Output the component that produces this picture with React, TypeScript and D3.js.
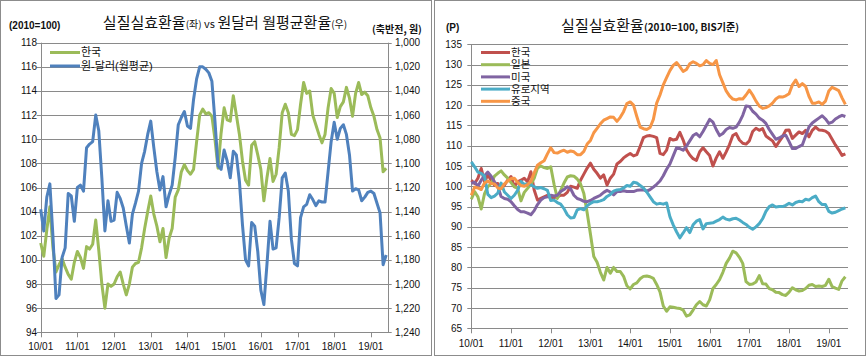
import React from "react";
import * as d3 from "d3";

// ---------- DATA ----------
const xTickLabels = ["10/01", "11/01", "12/01", "13/01", "14/01", "15/01", "16/01", "17/01", "18/01", "19/01"];

// Left chart: REER Korea (2010=100, left axis)
const leftKorea = [
  101.4, 100.3, 102.5, 104.4, 101.0, 99.0, 99.6, 100.1, 99.4, 98.8, 98.4, 99.8,
  100.7, 100.2, 99.3, 101.1, 100.9, 101.3, 103.3, 100.8, 98.0, 96.0, 98.0, 97.8,
  98.0, 98.6, 99.0, 98.0, 97.1, 98.0, 99.4, 99.7, 99.8, 101.0, 102.6, 104.0,
  105.3, 103.8, 102.8, 101.5, 102.6, 100.2, 101.8, 102.6, 105.2, 105.8, 107.3, 107.9,
  107.4, 107.1, 107.5, 109.8, 112.0, 112.5, 112.1, 112.2, 111.9, 110.0, 107.6, 110.5,
  112.6, 111.6, 111.5, 113.6, 112.0, 110.4, 108.2, 106.6, 106.2, 109.5, 109.8, 108.7,
  107.5, 104.9, 106.8, 108.4, 106.5, 107.1, 109.3, 112.2, 112.9, 112.2, 110.4, 110.3,
  110.8, 112.9, 114.7, 113.8, 114.0, 112.0, 111.2, 110.4, 109.7, 110.4, 112.6, 114.2,
  113.8, 111.8, 112.7, 113.1, 114.3, 113.4, 111.9, 113.8, 114.7, 113.7, 113.9, 113.6,
  112.6, 111.9, 110.8, 110.1, 107.3, 107.6,
];

// Left chart: KRW/USD monthly average (right axis, inverted)
const wonDollar = [
  1138, 1156, 1128, 1117, 1160, 1212, 1209, 1178, 1170, 1125, 1127, 1148,
  1120, 1118, 1123, 1087, 1084, 1082, 1060, 1073, 1112, 1156, 1131, 1148,
  1147, 1124, 1129, 1137, 1152, 1166, 1142, 1133, 1123, 1100, 1090, 1076,
  1065, 1087, 1107, 1122, 1111, 1136, 1126, 1118, 1095, 1068, 1062, 1057,
  1069, 1071, 1047, 1030, 1020, 1020, 1022, 1025, 1032, 1065, 1102, 1105,
  1089, 1098, 1112, 1090, 1093, 1115, 1151, 1180, 1185, 1149, 1152, 1173,
  1205, 1217, 1184, 1148, 1171, 1170, 1145, 1112, 1108, 1123, 1163, 1183,
  1185, 1145, 1136, 1134, 1126, 1130, 1135, 1131, 1132, 1132, 1107, 1082,
  1066, 1080, 1071, 1068, 1076, 1093, 1123, 1121, 1122, 1131, 1128, 1124,
  1123, 1125, 1133, 1141, 1184, 1176,
];

const leftYTicks = [94, 96, 98, 100, 102, 104, 106, 108, 110, 112, 114, 116, 118];
const wonTicks = [1000, 1020, 1040, 1060, 1080, 1100, 1120, 1140, 1160, 1180, 1200, 1220, 1240];

// Right chart: BIS REER
const bisKorea = [
  101.5, 100.7, 102.0, 104.4, 101.1, 102.8, 101.5, 100.3, 100.7, 99.5, 100.3, 101.5,
  102.4, 99.9, 101.1, 101.5, 102.0, 101.1, 103.6, 99.1, 96.6, 97.0, 97.4, 97.8,
  97.0, 97.2, 97.4, 97.8, 97.8, 98.5, 100.0, 99.8, 99.5, 101.5, 103.0, 104.5,
  105.7, 104.2, 103.2, 102.0, 102.8, 100.3, 102.0, 103.0, 105.5, 106.1, 107.0, 107.6,
  108.1, 107.5, 107.8, 109.8, 112.0, 112.4, 112.5, 112.3, 112.0, 108.1, 107.8, 108.9,
  111.8, 111.4, 111.6, 113.3, 111.4, 109.0, 107.7, 106.8, 106.4, 108.5, 109.5, 108.5,
  107.6, 105.0, 107.0, 108.5, 106.9, 108.5, 110.3, 112.5, 113.0, 111.4, 110.6, 110.4,
  111.2, 113.5, 114.3, 113.8, 114.2, 112.4, 111.8, 111.2, 109.8, 111.0, 112.2, 113.8,
  113.9, 111.8, 112.6, 113.4, 113.0, 113.8, 112.2, 113.8, 114.6, 113.9, 113.8, 113.6,
  113.0, 111.6, 110.2, 109.0, 107.6, 108.0,
];
const bisJapan = [
  96.8, 98.7, 97.4, 94.4, 98.2, 99.9, 100.7, 102.5, 103.2, 103.8, 102.8, 102.0,
  100.9, 99.9, 99.5, 96.4, 98.5, 99.5, 100.5, 102.0, 104.5, 105.0, 104.6, 104.4,
  104.8, 100.5, 97.0, 99.0, 100.8, 102.3, 102.6, 102.5, 101.8, 100.6, 98.2, 93.5,
  88.2, 82.7, 81.3, 78.8, 76.9, 80.0, 78.6, 80.0, 79.0, 79.0, 77.8, 75.5,
  74.7, 75.8, 76.2, 77.2, 77.8, 77.9, 77.7, 77.3, 75.8, 74.0, 70.5, 69.2,
  70.3, 70.2, 70.0, 69.9, 69.5, 68.0, 68.3, 69.5, 70.8, 71.6, 70.8, 70.5,
  72.0, 74.8, 75.8, 77.0, 78.8, 81.0, 82.3, 84.0, 83.6, 82.5, 81.0, 76.5,
  75.8, 75.9, 76.4, 78.0, 76.0, 75.9, 74.8, 74.5, 73.9, 73.8, 73.3, 73.1,
  73.9, 75.0, 74.5, 74.2, 74.3, 74.8, 75.6, 75.8, 75.3, 75.4, 75.3, 75.6,
  77.1, 75.3, 74.9, 74.6, 76.7, 77.7,
];
const bisUS = [
  100.7, 101.0, 100.0, 101.5, 102.6, 103.5, 102.5, 101.1, 100.0, 97.5, 97.0, 96.8,
  96.2, 95.2, 94.3, 93.7, 93.7, 93.4, 93.0, 94.0, 95.5, 96.6, 97.2, 97.4,
  97.8, 97.6, 97.8, 98.7, 99.2, 99.9, 99.4, 97.8, 97.0, 96.7, 96.3, 96.2,
  96.5, 97.0, 97.4, 97.8, 98.5, 99.0, 98.6, 97.9, 98.7, 98.7, 98.9, 98.7,
  98.7, 98.7, 99.0, 99.1, 99.1, 98.8, 99.2, 99.8, 100.5, 101.3, 102.6, 104.2,
  105.5, 107.5, 109.5, 109.3, 108.9, 109.9, 111.2, 112.5, 113.0, 112.2, 113.5, 115.0,
  116.5, 115.8, 114.0, 112.5, 113.0, 114.0, 114.5, 114.3, 114.6, 115.8, 117.5, 119.8,
  119.7, 118.5, 117.8, 116.8, 116.3, 115.5, 114.0, 112.8, 111.6, 111.9, 112.4, 112.6,
  111.0, 109.3, 109.3, 109.8, 110.2, 112.4, 114.6, 115.6, 116.2, 116.8, 117.4, 116.6,
  115.5, 115.8, 116.6, 117.1, 117.5, 117.2,
];
const bisEuro = [
  106.0, 104.8, 103.5, 103.2, 102.5, 98.0, 97.2, 97.6, 98.3, 100.8, 98.6, 97.8,
  97.0, 97.8, 99.0, 101.2, 100.5, 100.6, 100.4, 99.9, 99.5, 99.7, 99.4, 99.0,
  96.5, 96.6, 96.0, 95.6, 94.5, 93.0, 92.2, 92.3, 94.2, 94.5, 94.2, 95.2,
  95.8, 96.2, 96.2, 96.4, 96.7, 97.5, 98.0, 98.8, 99.1, 99.2, 99.6, 100.2,
  100.0, 101.0, 100.8, 100.2, 99.6, 98.6, 97.4, 96.2, 95.6, 95.8, 95.6, 95.9,
  92.5, 90.5, 88.8, 87.3, 88.5, 89.8, 88.6, 90.5, 91.4, 91.8, 89.5, 90.8,
  90.9, 91.0, 91.4, 91.8, 92.4, 91.9, 91.7, 92.0, 92.1, 91.7, 91.1, 90.6,
  89.9, 89.4, 90.0, 90.8, 92.0, 93.8, 95.0, 95.4, 94.9, 95.0, 95.0, 95.3,
  95.8, 95.4, 96.0, 96.3, 96.2, 96.8, 96.6, 97.2, 97.6, 96.2, 95.5, 95.5,
  93.8, 93.4, 93.6, 94.0, 94.4, 94.7,
];
const bisChina = [
  97.8, 99.8, 99.6, 99.2, 100.8, 101.3, 100.7, 100.6, 99.6, 99.4, 100.6, 101.3,
  101.9, 102.0, 101.0, 100.2, 100.0, 100.4, 101.2, 103.3, 105.2, 105.8, 106.3, 108.0,
  109.5, 108.3, 108.2, 108.6, 108.9, 108.4, 108.7, 108.5, 107.8, 107.8, 108.6, 110.4,
  111.3, 113.2, 114.3, 115.4, 116.3, 116.7, 117.1, 117.0, 116.0, 117.0, 118.4, 120.4,
  120.8, 120.0, 117.2, 114.6, 114.2, 114.0, 114.5, 116.5, 120.5, 122.5, 125.0, 126.8,
  128.5, 129.8, 130.5, 129.5, 128.3, 128.8, 130.2, 130.7, 130.3, 129.7, 130.0, 131.0,
  130.3, 130.0, 131.0, 127.5, 125.5, 123.5, 122.3, 121.5, 121.3, 121.6, 121.5, 122.5,
  123.7, 122.5, 121.0, 119.8, 119.2, 119.4, 119.8, 120.5, 121.5, 122.1, 122.0, 122.3,
  122.8, 125.0, 126.2, 124.6, 125.3, 124.6, 122.2, 120.5, 120.5, 120.8, 120.2, 121.0,
  123.5, 124.4, 124.0, 123.6, 121.8, 120.2,
];
const bisYTicks = [65, 70, 75, 80, 85, 90, 95, 100, 105, 110, 115, 120, 125, 130, 135];

const leftLegend = ["한국", "원-달러(월평균)"];
const rightLegend = ["한국", "일본", "미국", "유로지역", "중국"];

// ---------- STYLE ----------
const GRID = "#8a8a8a";
const NUM_FONT = "'Liberation Sans', Arial, sans-serif";
const KR_FONT = "'Noto Sans CJK KR', 'Noto Sans', sans-serif";
const LEGEND_FONT = "'Liberation Sans', 'Noto Sans CJK KR', sans-serif";
const LEFT_COLORS = ["#9BBB59", "#4F81BD"];
const RIGHT_COLORS = ["#C0504D", "#9BBB59", "#8064A2", "#4BACC6", "#F79646"];

const fmtWon = d3.format(",");

function LeftChart() {
  const x0 = 40.7, x1 = 387.7, y0 = 42.7, y1 = 332.3;
  const n = leftKorea.length;
  const x = d3.scaleLinear().domain([0, n - 0.5]).range([x0, x1]);
  const y = d3.scaleLinear().domain([94, 118]).range([y1, y0]);
  const yw = d3.scaleLinear().domain([1000, 1240]).range([y0, y1]);
  const lineK = d3.line<number>().x((_, i) => x(i)).y((v) => y(v));
  const lineW = d3.line<number>().x((_, i) => x(i)).y((v) => yw(v));
  const r = (v: number) => Math.round(v) + 0.5;
  return (
    <g>
      <rect x={0.5} y={0.5} width={431} height={355} fill="#fff" stroke="#8c8c8c" />
      {leftYTicks.map((t) => (
        <g key={t}>
          <line x1={x0 - 4} x2={x1 + 4} y1={r(y(t))} y2={r(y(t))} stroke={GRID} strokeWidth={1} />
          <text x={37} y={y(t)} dy="0.35em" textAnchor="end" fontSize={10} fontFamily={NUM_FONT} fill="#111">{t}</text>
        </g>
      ))}
      {wonTicks.map((t) => (
        <text key={t} x={395} y={yw(t)} dy="0.35em" textAnchor="start" fontSize={10} fontFamily={NUM_FONT} fill="#111">{fmtWon(t)}</text>
      ))}
      <line x1={r(x0)} x2={r(x0)} y1={y0} y2={y1} stroke={GRID} />
      <line x1={r(x1)} x2={r(x1)} y1={y0} y2={y1} stroke={GRID} />
      {xTickLabels.map((lab, k) => (
        <g key={lab}>
          <line x1={r(x(k * 12))} x2={r(x(k * 12))} y1={y1} y2={y1 + 5} stroke={GRID} />
          <text x={x(k * 12)} y={y1 + 18} textAnchor="middle" fontSize={10} fontFamily={NUM_FONT} fill="#111">{lab}</text>
        </g>
      ))}
      <path d={lineK(leftKorea) || ""} fill="none" stroke={LEFT_COLORS[0]} strokeWidth={3} strokeLinejoin="round" />
      <path d={lineW(wonDollar) || ""} fill="none" stroke={LEFT_COLORS[1]} strokeWidth={3} strokeLinejoin="round" />
      {leftLegend.map((name, i) => (
        <g key={name}>
          <line x1={50} x2={80} y1={52.5 + i * 13.5} y2={52.5 + i * 13.5} stroke={LEFT_COLORS[i]} strokeWidth={3} />
          <text x={81} y={52.5 + i * 13.5} dy="0.35em" fontSize={11} fontFamily={LEGEND_FONT} fill="#111">{name}</text>
        </g>
      ))}
      <text x={225} y={28} textAnchor="middle" fontFamily={KR_FONT} fill="#111">
        <tspan fontSize={15}>실질실효환율</tspan>
        <tspan fontSize={10}>(좌)</tspan>
        <tspan fontSize={11}> vs </tspan>
        <tspan fontSize={15}>원달러 월평균환율</tspan>
        <tspan fontSize={10}>(우)</tspan>
      </text>
      <text x={9} y={29} fontSize={10} fontWeight="bold" fontFamily={NUM_FONT} fill="#111">(2010=100)</text>
      <text x={372} y={33} fontSize={10} fontWeight="bold" fontFamily={KR_FONT} fill="#111">(축반전, 원)</text>
    </g>
  );
}

function RightChart() {
  const x0 = 471.3, x1 = 848, y0 = 44.3, y1 = 328.3;
  const n = bisKorea.length;
  const x = d3.scaleLinear().domain([0, n - 0.2]).range([x0, x1]);
  const y = d3.scaleLinear().domain([65, 135]).range([y1, y0]);
  const line = d3.line<number>().x((_, i) => x(i)).y((v) => y(v));
  const r = (v: number) => Math.round(v) + 0.5;
  const series = [bisKorea, bisJapan, bisUS, bisEuro, bisChina];
  return (
    <g>
      <rect x={434.5} y={0.5} width={431} height={355} fill="#fff" stroke="#8c8c8c" />
      {bisYTicks.map((t) => (
        <g key={t}>
          <line x1={x0 - 4} x2={x1} y1={r(y(t))} y2={r(y(t))} stroke={GRID} strokeWidth={1} />
          <text x={462} y={y(t)} dy="0.35em" textAnchor="end" fontSize={10} fontFamily={NUM_FONT} fill="#111">{t}</text>
        </g>
      ))}
      <line x1={r(x0)} x2={r(x0)} y1={y0} y2={y1} stroke={GRID} />
      {xTickLabels.map((lab, k) => (
        <g key={lab}>
          <line x1={r(x(k * 12))} x2={r(x(k * 12))} y1={y1} y2={y1 + 5} stroke={GRID} />
          <text x={x(k * 12)} y={y1 + 18.5} textAnchor="middle" fontSize={10} fontFamily={NUM_FONT} fill="#111">{lab}</text>
        </g>
      ))}
      {series.map((s, i) => (
        <path key={i} d={line(s) || ""} fill="none" stroke={RIGHT_COLORS[i]} strokeWidth={3} strokeLinejoin="round" />
      ))}
      {rightLegend.map((name, i) => (
        <g key={name}>
          <line x1={481} x2={510} y1={52.5 + i * 12.2} y2={52.5 + i * 12.2} stroke={RIGHT_COLORS[i]} strokeWidth={3} />
          <text x={511} y={52.5 + i * 12.2} dy="0.35em" fontSize={10.5} fontFamily={LEGEND_FONT} fill="#111">{name}</text>
        </g>
      ))}
      <text x={650} y={31} textAnchor="middle" fontFamily={KR_FONT} fill="#111">
        <tspan fontSize={15}>실질실효환율</tspan>
        <tspan fontSize={10} fontWeight="bold">(2010=100, BIS기준)</tspan>
      </text>
      <text x={446} y={31} fontSize={10} fontWeight="bold" fontFamily={NUM_FONT} fill="#111">(P)</text>
    </g>
  );
}

export default function App() {
  return (
    <svg width={866} height={357} style={{ position: "absolute", left: 0, top: 0, background: "#fff" }}>
      <rect x={0} y={0} width={866} height={357} fill="#fff" />
      <LeftChart />
      <RightChart />
    </svg>
  );
}
